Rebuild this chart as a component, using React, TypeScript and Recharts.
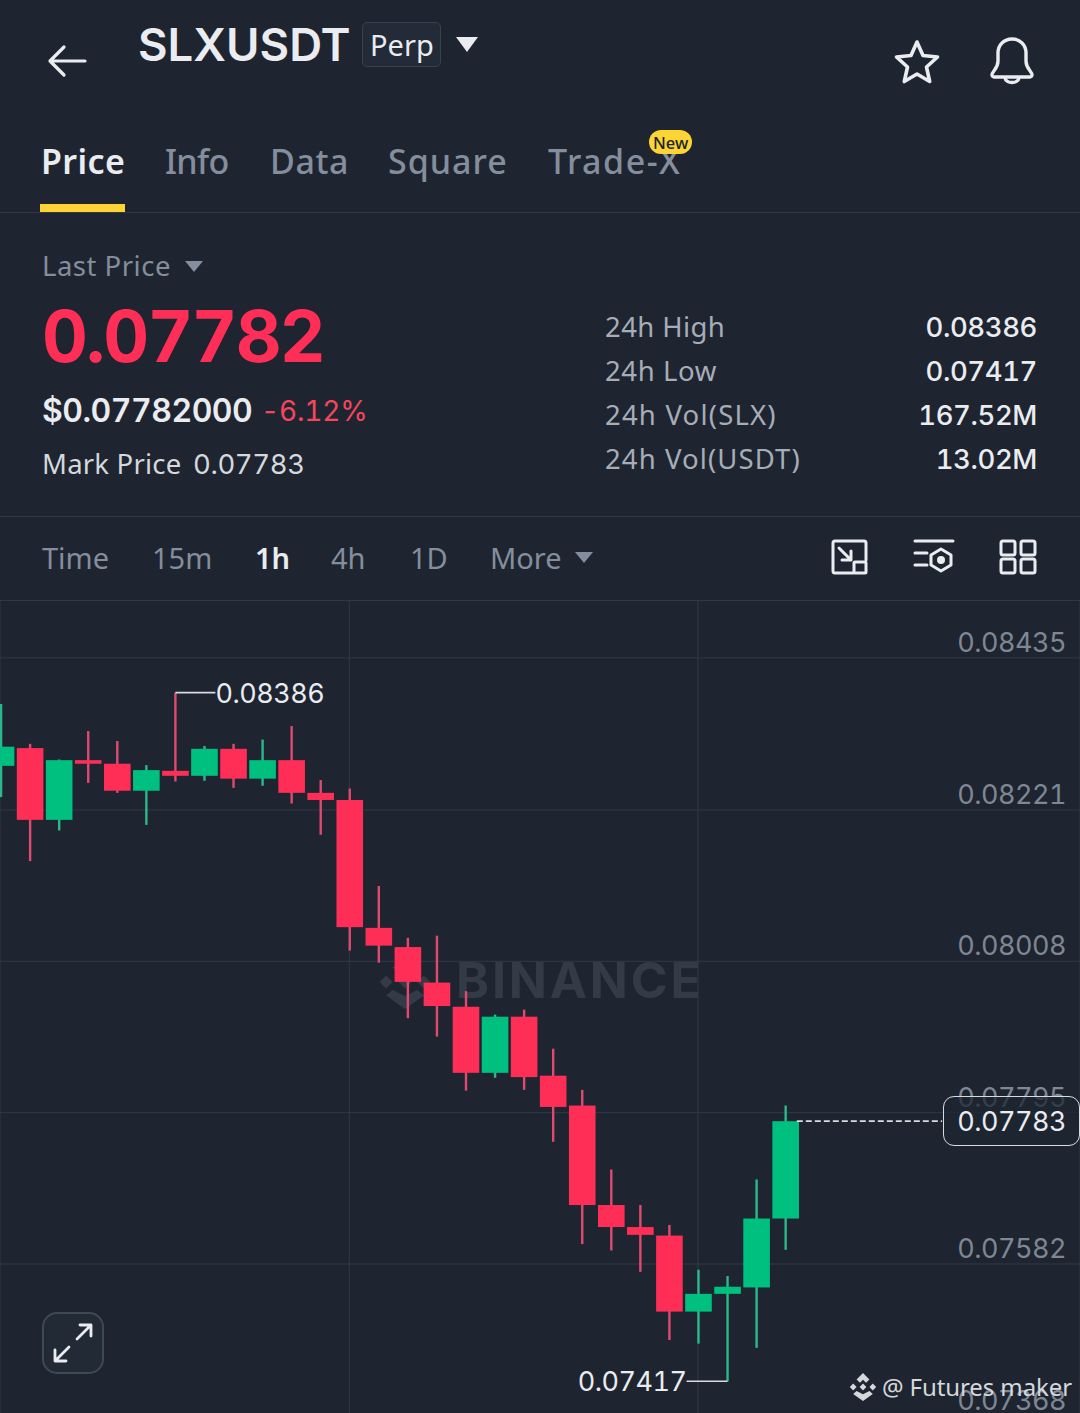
import React from 'react';
import { ComposedChart, Bar, XAxis, YAxis, CartesianGrid, ReferenceLine } from 'recharts';

const opens = [0.08283, 0.08308, 0.08207, 0.08291, 0.08286, 0.08248, 0.08276, 0.08269, 0.08307, 0.08265, 0.08291, 0.08245, 0.08235, 0.08055, 0.08028, 0.07978, 0.07944, 0.07851, 0.0793, 0.07847, 0.07805, 0.07665, 0.07634, 0.07622, 0.07515, 0.0754, 0.07549, 0.07646];
const closes = [0.0831, 0.08207, 0.08291, 0.08286, 0.08248, 0.08277, 0.08269, 0.08307, 0.08265, 0.08291, 0.08245, 0.08235, 0.08056, 0.0803, 0.07979, 0.07945, 0.07851, 0.0793, 0.07845, 0.07803, 0.07665, 0.07634, 0.07623, 0.07515, 0.0754, 0.0755, 0.07646, 0.07783];
const highs = [0.0837, 0.08314, 0.08292, 0.08332, 0.08318, 0.08284, 0.08386, 0.08311, 0.08314, 0.0832, 0.08339, 0.08263, 0.08251, 0.08114, 0.08041, 0.08044, 0.07966, 0.07933, 0.0794, 0.07885, 0.07827, 0.07715, 0.07665, 0.07637, 0.07574, 0.07565, 0.07701, 0.07805];
const lows = [0.08239, 0.08149, 0.08192, 0.08259, 0.08245, 0.082, 0.08261, 0.08262, 0.08252, 0.08255, 0.0823, 0.08186, 0.08023, 0.08006, 0.07928, 0.07902, 0.07826, 0.07844, 0.07827, 0.07754, 0.0761, 0.07601, 0.07571, 0.07475, 0.0747, 0.07417, 0.07464, 0.07602];
const priceTicks = [0.08435, 0.08221, 0.08008, 0.07795, 0.07582, 0.07368];
const timeTicks = [0, 12, 24];
const lastPrice = 0.07783;

const candles = opens.map((open, i) => ({ i, open, close: closes[i], high: highs[i], low: lows[i] }));
const topHigh = Math.max(...highs);
const bottomLow = Math.min(...lows);

const tabs = [
  { label: 'Price', left: 41, color: '#eaecef', weight: 600, spacing: 0.4 },
  { label: 'Info', left: 165, color: '#848e9c', weight: 500, spacing: -0.7 },
  { label: 'Data', left: 270, color: '#848e9c', weight: 500, spacing: 0.6 },
  { label: 'Square', left: 388, color: '#848e9c', weight: 500, spacing: 1.0 },
  { label: 'Trade-X', left: 548, color: '#848e9c', weight: 500, spacing: 1.5 },
];
const intervals = [
  { label: 'Time', left: 42, active: false },
  { label: '15m', left: 152, active: false },
  { label: '1h', left: 255, active: true },
  { label: '4h', left: 331, active: false },
  { label: '1D', left: 410, active: false },
  { label: 'More', left: 490, active: false },
];
const stats = [
  { label: '24h High', value: '0.08386', top: 327, spacing: 0.4 },
  { label: '24h Low', value: '0.07417', top: 371, spacing: 0.6 },
  { label: '24h Vol(SLX)', value: '167.52M', top: 415, spacing: 1.2 },
  { label: '24h Vol(USDT)', value: '13.02M', top: 459, spacing: 1.1 },
];

const BG = '#1e2531';
const LINE = '#323945';
const RED = '#ff2e57';
const GREEN = '#00c07f';
const FONT = 'Inter, "Noto Sans", sans-serif';
const NOTO = '"Noto Sans", sans-serif';
const NUM_STYLE = { fontVariantNumeric: 'tabular-nums', letterSpacing: -0.5 };

// absolutely placed text, top is the vertical centre of the line
const T = ({ left, right, top, size, color, weight = 400, font = FONT, spacing = 0, children }: any) => (
  <div
    style={{
      position: 'absolute', left, right, top: top - size, height: size * 2, lineHeight: `${size * 2}px`,
      fontSize: size, color, fontWeight: weight, fontFamily: font, letterSpacing: spacing, whiteSpace: 'nowrap',
      fontVariantNumeric: 'tabular-nums',
    }}
  >
    {children}
  </div>
);

const Candle = (props: any) => {
  const { x, y, width, height, payload } = props;
  const { open, close, high, low } = payload;
  const cx = x + width / 2;
  const perPrice = height / (high - low);
  const yOf = (p: number) => y + (high - p) * perPrice;
  const up = close >= open;
  const bodyTop = yOf(Math.max(open, close));
  const bodyBottom = yOf(Math.min(open, close));
  return (
    <g>
      <line x1={cx} x2={cx} y1={y} y2={y + height} stroke={up ? '#2cb98a' : '#e04a6e'} strokeWidth={2.4} />
      <rect x={cx - 13.3} y={bodyTop} width={26.6} height={Math.max(bodyBottom - bodyTop, 2)} fill={up ? GREEN : RED} />
      {high === topHigh && (
        <g>
          <line x1={cx} x2={cx + 40} y1={y} y2={y} stroke="#d8dbe0" strokeWidth={1.6} />
          <text x={cx + 40} y={y + 10} fontSize={27} fill="#eaecef" fontFamily={FONT} style={NUM_STYLE}>{high.toFixed(5)}</text>
        </g>
      )}
      {low === bottomLow && (
        <g>
          <line x1={cx} x2={cx - 41} y1={y + height} y2={y + height} stroke="#d8dbe0" strokeWidth={1.6} />
          <text x={cx - 41} y={y + height + 10} fontSize={27} fill="#eaecef" fontFamily={FONT} textAnchor="end" style={NUM_STYLE}>{low.toFixed(5)}</text>
        </g>
      )}
    </g>
  );
};

const PriceTick = ({ y, payload }: any) => (
  <text x={1066} y={y - 6} textAnchor="end" fontSize={27} fill="#7f8793" fontFamily={FONT} style={NUM_STYLE}>
    {payload.value.toFixed(5)}
  </text>
);

const Diamond = ({ x, y, s, color }: any) => (
  <svg style={{ position: 'absolute', left: x, top: y }} width={s} height={s} viewBox="0 0 24 24" fill={color}>
    <path d="M12 0 17.5 5.5 14.6 8.4 12 5.8 9.4 8.4 6.5 5.5Z M3.6 9.1 6.5 12 3.6 14.9 0.7 12Z M20.4 9.1 23.3 12 20.4 14.9 17.5 12Z M12 9.1 14.9 12 12 14.9 9.1 12Z M6.5 15.5 12 18.2 17.5 15.5 20.4 18 12 24 3.6 18Z" />
  </svg>
);

const Icon = ({ x, y, w, h, children, stroke = '#eaecef', sw = 3 }: any) => (
  <svg style={{ position: 'absolute', left: x, top: y }} width={w} height={h} viewBox={`0 0 ${w} ${h}`} fill="none" stroke={stroke} strokeWidth={sw} strokeLinejoin="round" strokeLinecap="round">
    {children}
  </svg>
);

const Rule = ({ top }: { top: number }) => (
  <div style={{ position: 'absolute', left: 0, top, width: 1080, height: 1, background: LINE }} />
);

export default function App() {
  return (
    <div style={{ position: 'fixed', left: 0, top: 0, width: 1080, height: 1413, overflow: 'hidden', background: BG }}>
      {/* header */}
      <Icon x={46} y={44} w={44} h={34} sw={3.2}>
        <path d="M39 17H4M18 3 4 17 18 31" />
      </Icon>
      <T left={138} top={44} size={45.5} color="#eaecef" weight={600}>SLXUSDT</T>
      <div style={{ position: 'absolute', left: 362, top: 22, width: 77, height: 43, border: '1px solid #39414e', borderRadius: 5, background: '#232b38' }} />
      <T left={370} top={45} size={29} color="#eaecef" font={NOTO}>Perp</T>
      <svg style={{ position: 'absolute', left: 455, top: 36 }} width={24} height={17}><path d="M1 1H23L12 16Z" fill="#eaecef" /></svg>
      <Icon x={893} y={38} w={48} h={48} sw={3.6}>
        <path d="M24 4 30 17.5 44.5 19 33.5 29 36.7 43.5 24 36 11.3 43.5 14.5 29 3.5 19 18 17.5Z" />
      </Icon>
      <Icon x={988} y={36} w={48} h={50} sw={3.4}>
        <path d="M4 39C4 35 10 33 10 25V17C10 9 16 3 24 3S38 9 38 17V25C38 33 44 35 44 39 44 40 43 41 42 41H6C5 41 4 40 4 39Z" />
        <path d="M17 42C18 48 30 48 31 42" />
      </Icon>

      {tabs.map((t) => (
        <T key={t.label} left={t.left} top={161} size={34} color={t.color} weight={t.weight} font={NOTO} spacing={t.spacing}>{t.label}</T>
      ))}
      <div style={{ position: 'absolute', left: 40, top: 204, width: 85, height: 8, background: '#fcd535' }} />
      <div style={{ position: 'absolute', left: 649, top: 130, width: 43, height: 24, borderRadius: 12, background: '#fcd535' }} />
      <T left={653} top={142} size={16.5} color="#1e2329" weight={500} font={NOTO}>New</T>
      <Rule top={212} />

      <T left={42} top={265} size={27.5} color="#848e9c" font={NOTO} spacing={0.5}>Last Price</T>
      <svg style={{ position: 'absolute', left: 184, top: 260 }} width={20} height={13}><path d="M1 1H19L10 12Z" fill="#848e9c" /></svg>
      <T left={42} top={336} size={71} color={RED} weight={700} spacing={-1.8}>0.07782</T>
      <T left={42} top={411} size={32} color="#eaecef" weight={600} spacing={-0.5}>$0.07782000</T>
      <T left={261} top={411} size={28} color="#f6465d" spacing={-0.2}>-6.12%</T>
      <T left={42} top={463} size={27.5} color="#d5d8dc" font={NOTO} spacing={0.2}>Mark Price</T>
      <T left={193} top={464} size={27.5} color="#d5d8dc" spacing={-0.4}>0.07783</T>
      {stats.map((s) => (
        <React.Fragment key={s.label}>
          <T left={605} top={s.top - 1} size={27.5} color="#a7adb6" font={NOTO} spacing={s.spacing}>{s.label}</T>
          <T right={43} top={s.top} size={27.5} color="#eaecef" weight={500} spacing={-0.4}>{s.value}</T>
        </React.Fragment>
      ))}
      <Rule top={516} />

      {intervals.map((t) => (
        <T key={t.label} left={t.left} top={558} size={29} color={t.active ? '#eaecef' : '#848e9c'} weight={t.active ? 600 : 400} font={NOTO}>{t.label}</T>
      ))}
      <svg style={{ position: 'absolute', left: 574, top: 551 }} width={20} height={13}><path d="M1 1H19L10 12Z" fill="#848e9c" /></svg>
      <Icon x={830} y={538} w={40} h={38}>
        <path d="M23 35H5C3 35 3 34 3 33V5C3 3 4 3 5 3H34C36 3 36 4 36 5V22" />
        <path d="M9 10 21 22M21 13V22H12" />
        <rect x={24} y={24} width={12} height={11} rx={1} />
      </Icon>
      <Icon x={912} y={538} w={44} h={38}>
        <path d="M3 3H41M3 15H15M3 27H15" />
        <path d="M29 11 39 17V27L29 33 19 27V17Z" />
        <circle cx={29} cy={22} r={2.5} fill="#eaecef" />
      </Icon>
      <Icon x={998} y={538} w={40} h={38}>
        <rect x={3} y={3} width={14} height={14} rx={2} />
        <rect x={23} y={3} width={14} height={14} rx={2} />
        <rect x={3} y={21} width={14} height={14} rx={2} />
        <rect x={23} y={21} width={14} height={14} rx={2} />
      </Icon>
      <Rule top={600} />

      {/* chart area */}
      <Diamond x={378} y={955} s={54} color="#343b47" />
      <T left={456} top={980} size={50} color="#343b47" weight={700} spacing={2.8}>BINANCE</T>
      <div style={{ position: 'absolute', left: 0, top: 600 }}>
        <ComposedChart width={1080} height={830} data={candles} margin={{ top: 0, right: 0, bottom: 0, left: 0 }}>
          <CartesianGrid stroke={LINE} strokeWidth={1} />
          <XAxis dataKey="i" type="number" domain={[-0.02, 37.145]} ticks={timeTicks} allowDataOverflow hide />
          <YAxis
            orientation="right"
            mirror
            width={60}
            domain={[0.073484, 0.085164]}
            ticks={priceTicks}
            allowDataOverflow
            axisLine={false}
            tickLine={false}
            tick={<PriceTick />}
          />
          <Bar dataKey={(d: any) => [d.low, d.high]} barSize={26} shape={<Candle />} isAnimationActive={false} />
          <ReferenceLine
            segment={[{ x: 27.4, y: lastPrice }, { x: 32.4, y: lastPrice }]}
            stroke="#d8dbe0"
            strokeDasharray="6 3"
            strokeWidth={1.6}
          />
        </ComposedChart>
      </div>

      <div style={{ position: 'absolute', left: 943, top: 1096, width: 135, height: 48, border: '1.5px solid #d8dbe0', borderRadius: 11, background: 'rgba(30,37,49,0.75)' }} />
      <T right={14} top={1122} size={27} color="#eaecef" spacing={-0.5}>0.07783</T>

      <div style={{ position: 'absolute', left: 42, top: 1312, width: 58, height: 58, border: '2px solid #3f4855', borderRadius: 15, background: '#222a36' }} />
      <Icon x={52} y={1322} w={42} h={42} sw={2.8}>
        <path d="M25 17 38 4M28 3H39V14M17 25 4 38M3 28V39H14" />
      </Icon>

      <Diamond x={849} y={1373} s={28} color="#d5d8dc" />
      <T left={882} top={1387} size={24} color="#d5d8dc" font={NOTO} spacing={-0.1}>@ Futures maker</T>
    </div>
  );
}
